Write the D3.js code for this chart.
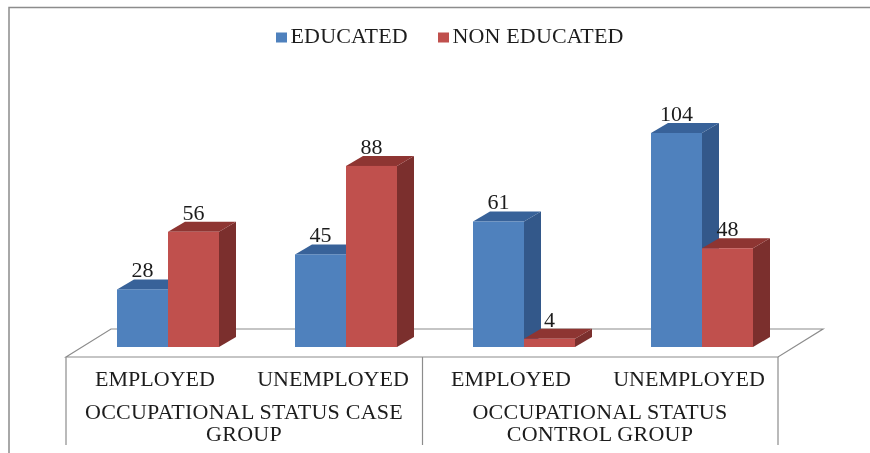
<!DOCTYPE html>
<html>
<head>
<meta charset="utf-8">
<script src="https://cdn.jsdelivr.net/npm/d3@7"></script>
<style>
    html, body { margin: 0; padding: 0; background: #fff; }
    svg { display: block; filter: blur(0.4px); }
    text { font-family: "Liberation Serif", serif; fill: #1c1c1c; }
</style>
</head>
<body>
<div id="chart"></div>
<script>
const categories = ["EMPLOYED", "UNEMPLOYED", "EMPLOYED ", "UNEMPLOYED "];
const seriesNames = ["EDUCATED", "NON EDUCATED"];
const educated = [28, 45, 61, 104];
const nonEducated = [56, 88, 4, 48];
const groupLabels = [
    ["OCCUPATIONAL STATUS CASE", "GROUP"],
    ["OCCUPATIONAL STATUS", "CONTROL GROUP"]
];

const frontColors = ["#4f81bd", "#c0504d"];
const topColors = ["#386299", "#8e3532"];
const sideColors = ["#33588a", "#7b2f2d"];

const width = 870;
const height = 453;
const baseY = 347;
const depth = { x: 17, y: -10 };      // bar depth
const floor = { left: 66, right: 778, front: 357, dx: 45, dy: -28 };
const fontSize = 22;

const svg = d3.select("#chart")
    .append("svg")
    .attr("width", width)
    .attr("height", height);

// outer chart frame, the crop only leaves the top and left edges
svg.append("path")
    .attr("d", "M9,453V7.5H870")
    .attr("fill", "none")
    .attr("stroke", "#8c8c8c")
    .attr("stroke-width", 1.5);

const x0 = d3.scaleBand()
    .domain(d3.range(categories.length))
    .range([floor.left + 13, floor.right + 13])
    .paddingInner(0.427)
    .paddingOuter(0.2135);

const x1 = d3.scaleBand()
    .domain([0, 1])
    .range([0, x0.bandwidth()]);

const y = d3.scaleLinear()
    .domain([0, 104])
    .range([baseY, 133]);

// floor of the 3d plot
const lineColor = "#8c8c8c";
svg.append("path")
    .attr("d", `M${floor.left},${floor.front}L${floor.left + floor.dx},${floor.front + floor.dy}H${floor.right + floor.dx}L${floor.right},${floor.front}Z`)
    .attr("fill", "#fff")
    .attr("stroke", lineColor)
    .attr("stroke-width", 1.2);

// category table lines under the floor
const tableBottom = 445;
const midX = (floor.left + floor.right) / 2 + 0.5;
[floor.left, midX, floor.right].forEach(lx => {
    svg.append("line")
        .attr("x1", lx).attr("x2", lx)
        .attr("y1", floor.front).attr("y2", tableBottom)
        .attr("stroke", lineColor)
        .attr("stroke-width", 1.2);
});

// flatten data so the bars can be drawn left to right
const bars = categories.flatMap((c, i) => [
    { cat: i, s: 0, value: educated[i] },
    { cat: i, s: 1, value: nonEducated[i] }
]);

const barG = svg.selectAll("g.bar")
    .data(bars)
    .join("g")
    .attr("class", "bar");

barG.append("path")
    .attr("fill", d => sideColors[d.s])
    .attr("d", d => {
        const xr = x0(d.cat) + x1(d.s) + x1.bandwidth();
        return `M${xr},${baseY}l${depth.x},${depth.y}V${y(d.value) + depth.y}L${xr},${y(d.value)}Z`;
    });

barG.append("path")
    .attr("fill", d => topColors[d.s])
    .attr("d", d => {
        const xl = x0(d.cat) + x1(d.s);
        return `M${xl},${y(d.value)}l${depth.x},${depth.y}h${x1.bandwidth()}l${-depth.x},${-depth.y}Z`;
    });

barG.append("rect")
    .attr("fill", d => frontColors[d.s])
    .attr("x", d => x0(d.cat) + x1(d.s))
    .attr("y", d => y(d.value))
    .attr("width", x1.bandwidth())
    .attr("height", d => baseY - y(d.value));

// value labels
svg.selectAll("text.value")
    .data(bars)
    .join("text")
    .attr("class", "value")
    .attr("x", d => x0(d.cat) + x1(d.s) + x1.bandwidth() / 2)
    .attr("y", d => y(d.value) + depth.y - 2)
    .attr("text-anchor", "middle")
    .attr("font-size", fontSize)
    .text(d => d.value);

// category labels
svg.selectAll("text.cat")
    .data(categories)
    .join("text")
    .attr("class", "cat")
    .attr("x", (d, i) => x0(i) + x0.bandwidth() / 2 - 13)
    .attr("y", 386)
    .attr("text-anchor", "middle")
    .attr("font-size", fontSize)
    .text(d => d.trim());

// group labels, two lines each
groupLabels.forEach((lines, g) => {
    const cx = (x0(g * 2) + x0(g * 2 + 1) + x0.bandwidth()) / 2 - 13;
    lines.forEach((line, k) => {
        svg.append("text")
            .attr("x", cx)
            .attr("y", 419 + k * 22)
            .attr("text-anchor", "middle")
            .attr("font-size", fontSize)
            .attr("letter-spacing", 0.25)
            .text(line);
    });
});

// legend
const legendItems = [
    { name: seriesNames[0], sx: 276, tx: 290.5 },
    { name: seriesNames[1], sx: 438, tx: 452.5 }
];
legendItems.forEach((it, i) => {
    svg.append("rect")
        .attr("x", it.sx).attr("y", 32.5)
        .attr("width", 11).attr("height", 10)
        .attr("fill", frontColors[i]);
    svg.append("text")
        .attr("x", it.tx).attr("y", 43)
        .attr("font-size", fontSize)
        .attr("letter-spacing", 0.15)
        .text(it.name);
});
</script>
</body>
</html>
